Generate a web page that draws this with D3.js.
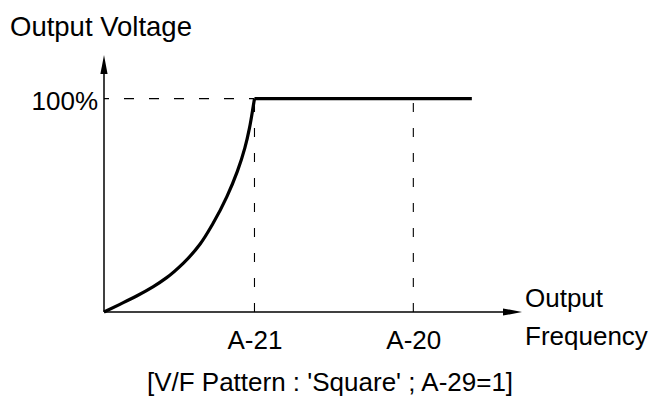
<!DOCTYPE html>
<html>
<head>
<meta charset="utf-8">
<script src="https://cdn.jsdelivr.net/npm/d3@7"></script>
<style>
  html, body { margin: 0; padding: 0; background: #fff; }
  svg { display: block; }
  text { font-family: "Liberation Sans", Arial, sans-serif; fill: #000; }
</style>
</head>
<body>
<svg id="chart" width="653" height="399"></svg>
<script>
// Output frequency (in % of the axis span) and output voltage (%) along the square V/F curve
const curveFreq = [0, 3.8, 7.8, 11.8, 15.0, 19.0, 23.0, 26.1, 29.4, 31.9, 33.7, 34.8, 35.7, 36];
const curveVolt = [0, 3.6, 7.5, 11.9, 16.1, 22.9, 31.9, 41.6, 54.1, 65.9, 76.9, 86.2, 96.4, 100];
// Flat portion at rated voltage after the base frequency
const flatFreq = [36, 88];
const flatVolt = [100, 100];
// Marked frequencies on the horizontal axis
const freqTicks = [36, 74];
const freqTickLabels = ["A-21", "A-20"];
// Marked voltage on the vertical axis
const voltTicks = [100];
const voltTickLabels = ["100%"];

const svg = d3.select("#chart");
const x = d3.scaleLinear().domain([0, 100]).range([104, 522]);
const y = d3.scaleLinear().domain([0, 120]).range([312, 56]);

const FONT = 26;
const FAMILY = "Liberation Sans, Arial, sans-serif";

// Dashed guide lines
const g = svg.append("g");
g.append("line")
  .attr("x1", x(0)).attr("x2", x(freqTicks[0]))
  .attr("y1", y(100)).attr("y2", y(100))
  .attr("stroke", "#000").attr("stroke-width", 1.1)
  .attr("stroke-dasharray", "10,15").attr("stroke-dashoffset", 5);
freqTicks.forEach(f => {
  g.append("line")
    .attr("x1", x(f)).attr("x2", x(f))
    .attr("y1", y(0)).attr("y2", y(100))
    .attr("stroke", "#000").attr("stroke-width", 1.1)
    .attr("stroke-dasharray", "9,16");
});

// Axes
const xAxis = d3.axisBottom(x)
  .tickValues(freqTicks)
  .tickFormat((d, i) => freqTickLabels[i])
  .tickSize(0).tickSizeOuter(0).tickPadding(19);
const gx = svg.append("g").attr("transform", `translate(0,${y(0)})`).call(xAxis);
gx.select(".domain").attr("stroke-width", 1.5).attr("d", `M${x(0)},0H${x(100) - 10}`);
gx.selectAll(".tick text").attr("font-size", FONT).attr("font-family", FAMILY).attr("fill", "#000");

const yAxis = d3.axisLeft(y)
  .tickValues(voltTicks)
  .tickFormat((d, i) => voltTickLabels[i])
  .tickSize(0).tickSizeOuter(0).tickPadding(6);
const gy = svg.append("g").attr("transform", `translate(${x(0)},0)`).call(yAxis);
gy.select(".domain").attr("stroke-width", 1.5).attr("d", `M0,${y(0)}V${y(120) + 10}`);
gy.selectAll(".tick text").attr("font-size", FONT).attr("font-family", FAMILY)
  .attr("fill", "#000").attr("dy", "0.4em");

// Arrow heads
svg.append("path")
  .attr("d", `M${x(100)},${y(0)}L${x(100) - 19},${y(0) - 3.6}L${x(100) - 19},${y(0) + 3.6}Z`)
  .attr("fill", "#000");
svg.append("path")
  .attr("d", `M${x(0)},${y(120) - 1}L${x(0) - 3.6},${y(120) + 18}L${x(0) + 3.6},${y(120) + 18}Z`)
  .attr("fill", "#000");

// V/F curve (interpolated along the voltage direction, since it turns near vertical)
svg.append("path")
  .datum(d3.zip(curveFreq, curveVolt))
  .attr("d", d3.line().x(d => x(d[0])).y(d => y(d[1])).curve(d3.curveMonotoneY))
  .attr("fill", "none").attr("stroke", "#000").attr("stroke-width", 3.2)
  .attr("stroke-linejoin", "round");
svg.append("path")
  .datum(d3.zip(flatFreq, flatVolt))
  .attr("d", d3.line().x(d => x(d[0])).y(d => y(d[1])))
  .attr("fill", "none").attr("stroke", "#000").attr("stroke-width", 3.4);

// Titles
svg.append("text").attr("x", 10).attr("y", 36).attr("font-size", 27.5).text("Output Voltage");
svg.append("text").attr("x", 525).attr("y", 307).attr("font-size", FONT).text("Output");
svg.append("text").attr("x", 525).attr("y", 345).attr("font-size", FONT).text("Frequency");
svg.append("text").attr("x", 330).attr("y", 391).attr("text-anchor", "middle")
  .attr("font-size", FONT).text("[V/F Pattern : 'Square' ; A-29=1]");
</script>
</body>
</html>
